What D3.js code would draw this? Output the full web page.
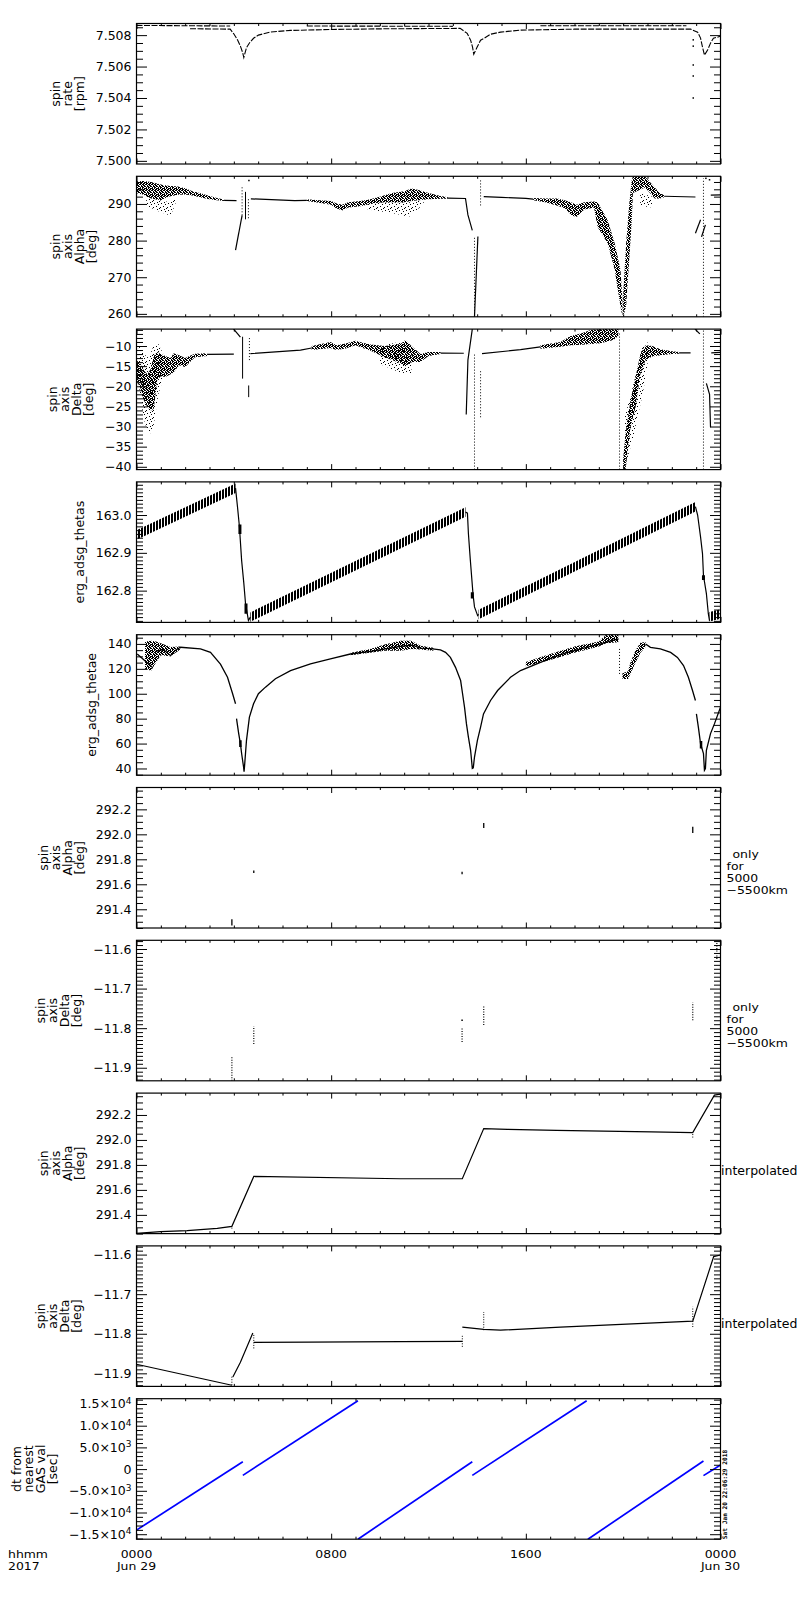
<!DOCTYPE html>
<html><head><meta charset="utf-8">
<script src="https://cdn.jsdelivr.net/npm/d3@7"></script>
<style>body{margin:0;background:#fff}svg{display:block}</style>
</head><body><svg id="c" width="800" height="1600"></svg>
<script>
// ================= DATA =================
// x axis: hours from 0000 Jun 29 2017
const xDomain = [0, 24];
const hourTicks = [0,1,2,3,4,5,6,7,8,9,10,11,12,13,14,15,16,17,18,19,20,21,22,23,24];
const xMajorHours = [0, 8, 16, 24];
const xLabels = [["0000","Jun 29"],["0800"],["1600"],["0000","Jun 30"]];
const xCornerLabel = ["hhmm","2017"];
const stampText = "Sat Jan 20 22:06:29 2018";

// panel titles / side notes
const titles = [
  ["spin","rate","[rpm]"],
  ["spin","axis","Alpha","[deg]"],
  ["spin","axis","Delta","[deg]"],
  ["erg_adsg_thetas"],
  ["erg_adsg_thetae"],
  ["spin","axis","Alpha","[deg]"],
  ["spin","axis","Delta","[deg]"],
  ["spin","axis","Alpha","[deg]"],
  ["spin","axis","Delta","[deg]"],
  ["dt from","nearest","GAS val","[sec]"]
];
const noteOnly = ["only","for","5000","\u22125500km"];
const noteInterp = ["interpolated"];

// y ranges and tick steps [major, minor]
const yDomains = [[7.4998,7.50874],[259.2,297.55],[-40.7,-5.8],[162.716,163.0876],[34.6,147.4],
                  [291.25,292.375],[-11.933,-11.578],[291.25,292.375],[-11.933,-11.578],[-16150,16220]];
const yTickSteps = [[0.002,0.0005],[10,2],[5,1],[0.1,0.01],[20,5],[0.2,0.05],[0.1,0.01],[0.2,0.05],[0.1,0.01],[5000,1000]];

// ---- panel 1: spin rate ----
const rateUpper = [
  [[0,7.50862],[3.85,7.50858]],
  [[7.0,7.50858],[13.0,7.50856]],
  [[16.6,7.5086],[22.6,7.5086]]
];
const rateLower = [[2.2,7.50841],[3.85,7.50838],[3.99,7.5081],[4.15,7.5077],[4.27,7.5073],[4.36,7.5069],[4.41,7.50658],[4.52,7.5072],[4.64,7.5075],[4.81,7.5078],[5.01,7.5080],[5.51,7.5082],[6.33,7.5083],[8.0,7.50836],[10.0,7.5084],[13.3,7.50843],[13.59,7.50811],[13.73,7.50768],[13.81,7.50724],[13.86,7.50679],[14.0,7.50724],[14.14,7.50768],[14.3,7.50781],[14.55,7.50806],[14.96,7.50819],[15.78,7.50832],[18.0,7.50838],[22.77,7.50838],[23.06,7.50819],[23.18,7.50781],[23.26,7.50724],[23.34,7.50673],[23.47,7.50705],[23.59,7.50749],[23.71,7.50781],[23.88,7.50787],[24.0,7.50794]];
const rateSpike = [[22.88,7.5077],[22.88,7.5073],[22.88,7.5061],[22.88,7.5054],[22.88,7.5040]];

// ---- panel 2: spin axis alpha ----
const alphaBands = [
  [[0.0,292.9,296.2],[0.3,292.5,296.3],[0.6,291.5,296.0],[1.0,291.0,295.3],[1.3,292.0,295.0],[1.7,292.5,294.8],[2.0,292.6,294.3],[2.3,292.3,293.5],[2.6,291.8,293.0],[3.0,291.3,292.2],[3.3,291.0,291.6],[3.6,290.8,291.2]],
  [[7.0,290.8,291.3],[7.5,290.3,291.0],[8.0,289.8,290.8],[8.2,288.8,290.2],[8.45,288.2,289.8],[8.7,289.0,290.5],[9.2,289.4,290.8],[9.6,290.0,291.3],[10.0,290.4,292.0],[10.5,290.5,293.0],[11.0,290.5,293.5],[11.3,290.8,294.2],[11.6,291.0,293.8],[12.0,291.3,293.0],[12.5,291.4,292.2],[12.8,291.4,291.8]],
  [[16.3,291.0,291.6],[16.8,290.5,291.5],[17.3,289.5,291.5],[17.6,288.8,291.0],[17.9,286.8,290.3],[18.1,286.5,289.8],[18.4,288.5,290.5],[18.8,289.0,290.7],[18.95,283.7,290.5],[19.36,279.3,285.6],[19.65,272.1,279.3],[19.89,262.0,272.0],[19.97,259.2,263.9]],
  [[20.0,259.2,265.0],[20.12,262.0,279.0],[20.25,275.0,290.0],[20.35,285.0,296.4],[20.4,293.0,297.5],[20.9,294.5,297.5],[21.1,293.0,296.0],[21.3,291.5,294.5],[21.5,291.5,293.0],[21.7,291.8,292.4]]
];
const alphaSparse = [
  [[0.4,289.5,292.5],[0.9,288.0,291.0],[1.4,286.8,290.5],[1.6,290.0,292.0]],
  [[9.5,288.5,290.5],[10.5,287.5,290.5],[11.2,286.5,290.5],[11.8,290.0,291.0]],
  [[20.7,289.5,293.0],[21.2,289.0,292.0]]
];
const alphaLines = [
  [[3.6,291.0],[4.11,290.9]],
  [[4.07,277.4],[4.34,286.9]],
  [[4.7,291.4],[6.5,290.9],[7.0,291.0]],
  [[12.8,291.6],[13.52,291.5],[13.62,287.0],[13.8,282.8]],
  [[13.89,259.2],[14.03,281.1]],
  [[14.27,292.0],[15.0,291.8],[16.0,291.5],[16.3,291.3]],
  [[21.7,292.1],[22.97,291.9]],
  [[22.97,282.0],[23.18,285.7]],
  [[23.22,281.0],[23.38,284.3]],
  [[23.6,292.4],[24.0,292.5]]
];
const alphaVDotted = [[4.34,286.9,295.0],[4.60,286.1,291.5],[13.89,259.2,281.1],[14.14,289.6,296.9],[23.30,259.2,297.0]];
const alphaVSolid = [[4.48,285.8,293.3]];
const alphaDots = [[4.62,296.4],[23.4,297.0],[23.55,296.6]];

// ---- panel 3: spin axis delta ----
const deltaBands = [
  [[0.0,-18.5,-13.5],[0.16,-20.5,-14.5],[0.3,-23.5,-16.0],[0.45,-25.2,-17.0],[0.6,-26.0,-15.5],[0.71,-25.6,-12.5],[0.85,-18.5,-11.5],[1.0,-17.5,-12.0],[1.19,-17.7,-12.5],[1.4,-17.0,-13.0],[1.53,-16.5,-11.8],[1.75,-14.8,-12.3],[2.0,-15.2,-13.0],[2.2,-14.0,-12.4],[2.4,-12.8,-11.9],[2.9,-12.5,-11.8]],
  [[7.2,-11.0,-10.0],[7.97,-10.5,-9.0],[8.22,-11.0,-9.8],[8.6,-10.6,-9.4],[9.0,-9.8,-8.7],[9.3,-10.5,-9.2],[9.62,-11.2,-9.6],[10.2,-12.8,-10.0],[10.85,-14.3,-9.5],[11.05,-15.0,-8.5],[11.3,-14.0,-10.0],[11.67,-14.0,-12.0],[12.0,-12.5,-11.5],[12.5,-12.0,-11.5]],
  [[16.6,-10.7,-9.8],[17.42,-10.2,-9.0],[17.84,-9.8,-7.5],[18.3,-9.7,-6.8],[18.66,-9.5,-6.0],[19.07,-9.3,-5.8],[19.6,-8.5,-5.8],[19.8,-7.5,-5.8]],
  [[20.0,-40.7,-38.0],[20.1,-40.7,-31.7],[20.3,-30.2,-23.5],[20.51,-25.2,-17.7],[20.71,-16.9,-11.9],[20.92,-13.5,-9.8],[21.2,-12.6,-10.0],[21.53,-12.3,-10.8],[22.0,-12.0,-11.3],[22.3,-11.9,-11.5]]
];
const deltaSparse = [
  [[0.1,-20,-10],[0.3,-28,-12],[0.5,-32.5,-13],[0.7,-30,-10],[0.9,-22,-9.5],[1.1,-18,-12]],
  [[10.0,-14.5,-10],[10.8,-16.5,-9],[11.3,-17,-11]],
  [[20.05,-40.7,-28],[20.4,-33,-20],[20.8,-22,-10],[21.0,-15,-9]]
];
const deltaLines = [
  [[2.9,-12.1],[4.0,-12.0]],
  [[3.99,-5.8],[4.15,-6.9],[4.27,-7.8]],
  [[4.68,-11.9],[6.74,-11.0],[7.2,-10.5]],
  [[12.5,-11.75],[13.45,-11.8]],
  [[13.55,-27.0],[13.62,-13.5],[13.8,-5.8]],
  [[14.2,-11.9],[15.78,-10.9],[16.6,-10.2]],
  [[22.3,-11.7],[22.77,-11.7]],
  [[22.95,-5.8],[23.15,-7.0]],
  [[23.42,-19.3],[23.55,-22.0],[23.59,-30.2]],
  [[23.62,-11.7],[24.0,-11.6]]
];
const deltaVDotted = [[4.64,-13.5,-7.7],[13.89,-40.7,-11.9],[14.14,-27.7,-16.0],[19.85,-40.7,-6.8],[23.3,-40.7,-6.0]];
const deltaVSolid = [[4.36,-18.1,-7.7],[4.61,-22.7,-19.8]];

// ---- panel 4: erg_adsg_thetas ----
const thetasRamps = [
  [[0,162.947],[4.07,163.071]],
  [[4.68,162.730],[13.52,163.008]],
  [[14.06,162.737],[22.97,163.022]],
  [[23.55,162.731],[24.0,162.738]]
];
const thetasSpread = 0.0125;
const thetasDrops = [
  [[4.07,163.071],[4.15,163.022],[4.23,162.969],[4.32,162.880],[4.41,162.82],[4.48,162.766],[4.6,162.721],[4.68,162.730]],
  [[13.52,163.008],[13.6,163.005],[13.64,162.951],[13.72,162.88],[13.83,162.79],[13.89,162.757],[14.02,162.734],[14.06,162.737]],
  [[22.97,163.022],[23.06,163.0],[23.18,162.942],[23.26,162.898],[23.3,162.84],[23.42,162.792],[23.5,162.739],[23.55,162.72]]
];
const thetasBlobs = [[4.25,162.95,162.975],[4.5,162.739,162.766],[13.8,162.779,162.796],[23.3,162.828,162.841]];

// ---- panel 5: erg_adsg_thetae ----
const thetaeLines = [
  [[0.03,131.9],[0.65,121.2]],
  [[0.78,134.0],[1.1,135.5],[1.4,130.6],[1.6,135.0],[1.81,137.3],[2.63,136.0],[3.04,133.2],[3.45,123.8],[3.74,113.2],[3.95,100.0],[4.07,92.0]],
  [[4.11,80.0],[4.2,68.0],[4.27,60.0],[4.32,52.0],[4.4,41.2],[4.42,37.5],[4.44,41.8],[4.52,62.6],[4.64,81.2],[4.81,92.0],[5.01,100.0],[5.3,105.3],[5.71,112.0],[6.33,118.6],[7.15,124.0],[7.97,128.0],[8.79,131.9],[9.62,134.0],[10.85,138.0],[11.34,139.0],[11.67,136.7],[12.08,136.2],[12.49,135.2],[12.7,133.2],[12.9,129.2],[13.11,121.2],[13.32,110.6],[13.4,100.0],[13.48,89.2],[13.56,75.8],[13.64,65.2],[13.73,54.6],[13.77,46.6],[13.8,40.0],[13.84,40.5],[13.89,49.2],[14.01,62.6],[14.14,73.2],[14.26,83.8],[14.55,94.6],[14.84,102.6],[15.37,113.2],[15.78,118.6],[16.6,125.2],[17.42,131.4],[18.25,136.0],[19.07,140.0],[19.5,142.5],[19.8,144.0]],
  [[20.92,140.0],[21.12,137.3],[21.53,136.0],[21.95,133.2],[22.23,129.2],[22.48,122.6],[22.68,113.2],[22.85,102.6],[22.97,94.6]],
  [[23.01,83.8],[23.09,73.2],[23.18,59.9],[23.3,52.0],[23.34,38.6],[23.38,40.0],[23.42,54.6],[23.59,68.0],[23.75,75.8],[24.0,89.2]]
];
const thetaeBands = [
  [[0.35,120.0,142.0],[0.6,118.5,142.6],[0.8,125.0,142.0],[1.0,131.0,140.5],[1.4,130.0,137.5],[1.8,135.5,138.0]],
  [[8.8,131.0,133.0],[9.6,133.0,136.0],[10.2,134.5,139.5],[10.85,134.6,142.6],[11.3,136.0,142.6],[11.67,135.5,138.5],[12.2,134.5,137.0]],
  [[16.0,122.0,125.5],[17.0,127.0,132.0],[18.0,133.0,138.0],[19.0,138.0,142.0],[19.3,140.5,147.4],[19.8,141.3,147.4]],
  [[19.97,111.9,116.5],[20.2,111.9,118.0],[20.3,116.0,125.0],[20.51,125.0,135.0],[20.71,133.0,141.0],[20.92,137.5,141.5]]
];
const thetaeVDotted = [[19.85,115.9,137.3]];
const thetaeBlobs = [[4.27,57.2,62.6],[23.2,56.0,62.0]];

// ---- panel 6 / 7: only for 5000-5500 km ----
const alphaOnly = [[3.92,291.27,291.32],[4.82,291.69,291.71],[13.38,291.68,291.70],[14.27,292.05,292.09],[22.86,292.01,292.06],[23.8,292.34,292.36]];
const deltaOnly = [[3.92,-11.933,-11.87],[4.82,-11.84,-11.795],[13.38,-11.835,-11.80],[14.27,-11.792,-11.745],[22.86,-11.78,-11.735],[23.85,-11.625,-11.585]];
const deltaOnlyDots = [[13.38,-11.78]];

// ---- panel 8 / 9: interpolated ----
const alphaInterp = [[0,291.252],[0.99,291.266],[2.08,291.274],[2.63,291.282],[3.32,291.292],[3.92,291.308],[4.82,291.708],[10.85,291.689],[13.39,291.689],[14.27,292.091],[15.25,292.085],[17.26,292.077],[19.19,292.071],[21.16,292.065],[22.86,292.059],[23.75,292.359],[24.0,292.367]];
const alphaInterpTicks = [[3.92,291.29,291.31],[22.86,292.019,292.059]];
const deltaInterp = [
  [[0.0,-11.877],[3.92,-11.930]],
  [[3.96,-11.909],[4.27,-11.872],[4.78,-11.798]],
  [[4.82,-11.822],[7.07,-11.821],[10.85,-11.820],[13.39,-11.819]],
  [[13.39,-11.783],[14.27,-11.789],[14.96,-11.791],[17.42,-11.783],[22.86,-11.768],[23.72,-11.605],[24.0,-11.601]]
];
const deltaInterpTicks = [[3.92,-11.93,-11.905],[4.82,-11.837,-11.799],[13.39,-11.833,-11.804],[14.27,-11.791,-11.745],[22.86,-11.783,-11.732]];

// ---- panel 10: dt from nearest GAS value ----
const dtSegments = [
  [[0,-14060],[4.37,1700]],
  [[4.37,-1440],[9.1,15760]],
  [[9.1,-16150],[13.8,1700]],
  [[13.8,-1450],[18.5,15750]],
  [[18.55,-16150],[23.3,1850]],
  [[23.3,-1500],[24.0,960]]
];

// ================= LAYOUT / STYLE =================
const FONT = "'DejaVu Sans', Verdana, sans-serif";
const FS = 12.5;      // tick labels, titles
const FS2 = 10.2;     // stacked horizontal labels
const STRETCH = 1.22; // horizontal widening of stacked labels
const LS = 12;        // line spacing of stacked labels
const X0 = 136.5, X1 = 720.5;
const TOP0 = 23.5, PITCH = 152.8, PH = 140.5;
const svg = d3.select("#c");
svg.append("rect").attr("width",800).attr("height",1600).attr("fill","#fff");
const defs = svg.append("defs");
const x = d3.scaleLinear().domain(xDomain).range([X0, X1]);

// stipple patterns
function pattern(id, w, h, pts){
  const p = defs.append("pattern").attr("id",id).attr("patternUnits","userSpaceOnUse").attr("width",w).attr("height",h);
  pts.forEach(q=>p.append("rect").attr("x",q[0]).attr("y",q[1]).attr("width",q[2]||1).attr("height",q[3]||1).attr("fill","#000"));
}
pattern("dense",6,6,[[0,0],[1,0],[3,0],[4,0],[2,1],[4,1],[5,1],[0,2],[1,2],[2,2],[4,2],[0,3],[2,3],[3,3],[5,3],[1,4],[2,4],[4,4],[5,4],[0,5],[3,5],[5,5]]);
pattern("sparse",7,7,[[0,0],[4,1],[2,3],[6,4],[3,6],[5,5]]);
pattern("hatch",3,4,[[0,0,2,4]]);

function stepTicks(lo,hi,step){
  const a=[]; const k0=Math.ceil(lo/step-1e-6), k1=Math.floor(hi/step+1e-6);
  for(let k=k0;k<=k1;k++) a.push(+(k*step).toFixed(10));
  return a;
}
const lineGen = y => d3.line().x(d=>x(d[0])).y(d=>y(d[1]));
const areaGen = y => d3.area().x(d=>x(d[0])).y0(d=>y(d[1])).y1(d=>y(d[2]));

function lines(g,y,arrs,opt={}){
  g.append("g").selectAll("path").data(arrs).join("path")
    .attr("d",lineGen(y)).attr("fill","none")
    .attr("stroke",opt.color||"#000").attr("stroke-width",opt.w||1.1)
    .attr("stroke-dasharray",opt.dash||null);
}
function bands(g,y,arrs,fill){
  g.append("g").selectAll("path").data(arrs).join("path")
    .attr("d",areaGen(y)).attr("fill",`url(#${fill})`).attr("stroke","none");
}
function vsegs(g,y,arr,opt={}){
  g.append("g").selectAll("line").data(arr).join("line")
    .attr("x1",d=>x(d[0])).attr("x2",d=>x(d[0]))
    .attr("y1",d=>y(d[1])).attr("y2",d=>y(d[2]))
    .attr("stroke","#000").attr("stroke-width",opt.w||1)
    .attr("stroke-dasharray",opt.dash||null);
}
function dots(g,y,arr){
  g.append("g").selectAll("rect").data(arr).join("rect")
    .attr("x",d=>x(d[0])-0.75).attr("y",d=>y(d[1])-0.75).attr("width",1.5).attr("height",1.5).attr("fill","#000");
}

const drawers = [
  (g,y)=>{ lines(g,y,rateUpper,{dash:"6 1.5"}); lines(g,y,[rateLower],{dash:"6 1.5"}); dots(g,y,rateSpike); },
  (g,y)=>{ bands(g,y,alphaSparse,"sparse"); bands(g,y,alphaBands,"dense"); lines(g,y,alphaLines,{w:1.2});
           vsegs(g,y,alphaVDotted,{dash:"1 2"}); vsegs(g,y,alphaVSolid); dots(g,y,alphaDots); },
  (g,y)=>{ bands(g,y,deltaSparse,"sparse"); bands(g,y,deltaBands,"dense"); lines(g,y,deltaLines,{w:1.2});
           vsegs(g,y,deltaVDotted,{dash:"1 2"}); vsegs(g,y,deltaVSolid); },
  (g,y)=>{ const rb = thetasRamps.map(r=>r.map(p=>[p[0],p[1]-thetasSpread,p[1]+thetasSpread]));
           bands(g,y,rb,"hatch"); lines(g,y,thetasDrops,{w:1.2}); vsegs(g,y,thetasBlobs,{w:3}); },
  (g,y)=>{ bands(g,y,thetaeBands,"dense"); lines(g,y,thetaeLines,{w:1.3}); vsegs(g,y,thetaeVDotted,{dash:"1 2"}); vsegs(g,y,thetaeBlobs,{w:2.5}); },
  (g,y)=>{ vsegs(g,y,alphaOnly,{w:1.3}); },
  (g,y)=>{ vsegs(g,y,deltaOnly,{dash:"1 1.5",w:1.2}); dots(g,y,deltaOnlyDots); },
  (g,y)=>{ lines(g,y,[alphaInterp],{w:1.2}); vsegs(g,y,alphaInterpTicks,{dash:"1 1.5"}); },
  (g,y)=>{ lines(g,y,deltaInterp,{w:1.2}); vsegs(g,y,deltaInterpTicks,{dash:"1 1.5"}); },
  (g,y)=>{ lines(g,y,dtSegments,{color:"#0000ff",w:1.7}); }
];

const formats = [d3.format(".3f"), d3.format(".0f"), d3.format(".0f"), d3.format(".1f"), d3.format(".0f"),
                 d3.format(".1f"), d3.format(".1f"), d3.format(".1f"), d3.format(".1f"), null];
const notes = [null,null,null,null,null,noteOnly,noteOnly,noteInterp,noteInterp,null];

function styleAxis(s){
  s.attr("font-family",FONT).attr("font-size",FS).attr("color","#000");
  s.select(".domain").remove();
}
function txt(parent, fs){
  return parent.append("text").attr("font-family",FONT).attr("font-size",fs||FS).attr("fill","#000");
}
// stacked horizontal label line: smaller font widened to the reference's wide glyphs
function stackedLine(parent, s, xx, yy, anchor){
  const t = txt(parent, FS2).attr("x",xx).attr("y",yy).attr("text-anchor",anchor||"start").text(s);
  const w = t.node().getComputedTextLength();
  t.attr("textLength", w*STRETCH).attr("lengthAdjust","spacingAndGlyphs");
  return t;
}

titles.forEach((title,i)=>{
  const top = TOP0 + i*PITCH, bot = top + PH, mid = (top+bot)/2;
  const dom = yDomains[i], [maj, mnr] = yTickSteps[i];
  const y = d3.scaleLinear().domain(dom).range([bot, top]);
  const g = svg.append("g");
  defs.append("clipPath").attr("id","cp"+i).append("rect")
    .attr("x",X0).attr("y",top).attr("width",X1-X0).attr("height",PH);
  const dg = g.append("g").attr("clip-path",`url(#cp${i})`);
  drawers[i](dg,y);

  const majors = stepTicks(dom[0],dom[1],maj);
  const minors = stepTicks(dom[0],dom[1],mnr).filter(v=>!majors.some(m=>Math.abs(m-v)<mnr*1e-3));
  // y ticks, inward on both sides
  g.append("g").attr("transform",`translate(${X0},0)`).call(d3.axisLeft(y).tickValues(minors).tickSize(-6.5).tickFormat("")).call(styleAxis);
  g.append("g").attr("transform",`translate(${X0},0)`).call(d3.axisLeft(y).tickValues(majors).tickSize(-10.5).tickFormat("")).call(styleAxis);
  g.append("g").attr("transform",`translate(${X1},0)`).call(d3.axisRight(y).tickValues(minors).tickSize(-6.5).tickFormat("")).call(styleAxis);
  g.append("g").attr("transform",`translate(${X1},0)`).call(d3.axisRight(y).tickValues(majors).tickSize(-10.5).tickFormat("")).call(styleAxis);
  // x ticks, inward top & bottom
  const xMinor = hourTicks.filter(h=>!xMajorHours.includes(h));
  g.append("g").attr("transform",`translate(0,${bot})`).call(d3.axisBottom(x).tickValues(xMinor).tickSize(-2.5).tickFormat("")).call(styleAxis);
  g.append("g").attr("transform",`translate(0,${bot})`).call(d3.axisBottom(x).tickValues(xMajorHours).tickSize(-5.5).tickFormat("")).call(styleAxis);
  g.append("g").attr("transform",`translate(0,${top})`).call(d3.axisTop(x).tickValues(xMinor).tickSize(-2.5).tickFormat("")).call(styleAxis);
  g.append("g").attr("transform",`translate(0,${top})`).call(d3.axisTop(x).tickValues(xMajorHours).tickSize(-5.5).tickFormat("")).call(styleAxis);
  // frame
  g.append("rect").attr("x",X0).attr("y",top).attr("width",X1-X0).attr("height",PH)
    .attr("fill","none").attr("stroke","#000").attr("stroke-width",1.2);

  // tick labels
  const lab = g.append("g").attr("transform",`translate(${X0},0)`)
    .call(d3.axisLeft(y).tickValues(majors).tickSize(0).tickPadding(5).tickFormat(formats[i] || (()=>""))).call(styleAxis);
  lab.selectAll(".tick line").remove();
  if(!formats[i]){
    lab.selectAll(".tick text").each(function(d){
      const t = d3.select(this); t.text("");
      if (d === 0) { t.text("0"); return; }
      const e = Math.floor(Math.log10(Math.abs(d)) + 1e-9);
      t.append("tspan").text(d3.format(".1f")(d/Math.pow(10,e)) + "\u00d710");
      t.append("tspan").attr("dy","-0.5em").attr("font-size","0.72em").text(e);
    });
  }
  const bb = lab.node().getBBox();
  const labelLeft = X0 + bb.x;
  // rotated multi-line title (one text element, one tspan per line)
  const n = title.length, gap = 12;
  const bx = labelLeft - 12 - (n-1)*gap;
  const tt = txt(g).attr("transform",`translate(${bx},${mid}) rotate(-90)`).attr("text-anchor","middle");
  title.forEach((s,k)=>{ tt.append("tspan").attr("x",0).attr("y",k*gap).text(s); });
  // right-side notes
  if (notes[i]) {
    if (notes[i].length === 1) {
      txt(g).attr("x",X1+0.5).attr("y",mid+12).text(notes[i][0]);
    } else {
      notes[i].forEach((s,k)=>{ stackedLine(g, s, X1+6+(k===0?6:0), mid+k*LS); });
    }
  }
  if (i === titles.length-1) {
    // bottom time labels
    xMajorHours.forEach((h,k)=>{
      xLabels[k].forEach((s,j)=>{ stackedLine(svg, s, x(h), bot+18.5+j*LS, "middle"); });
    });
    xCornerLabel.forEach((s,j)=>{ stackedLine(svg, s, 8, bot+18.5+j*LS); });
    svg.append("text").attr("transform",`translate(${X1+6},${bot}) rotate(-90)`)
      .attr("font-family","'DejaVu Sans Mono', monospace").attr("font-size",6.2).attr("font-weight","bold").attr("fill","#000").text(stampText);
  }
});
</script></body></html>
